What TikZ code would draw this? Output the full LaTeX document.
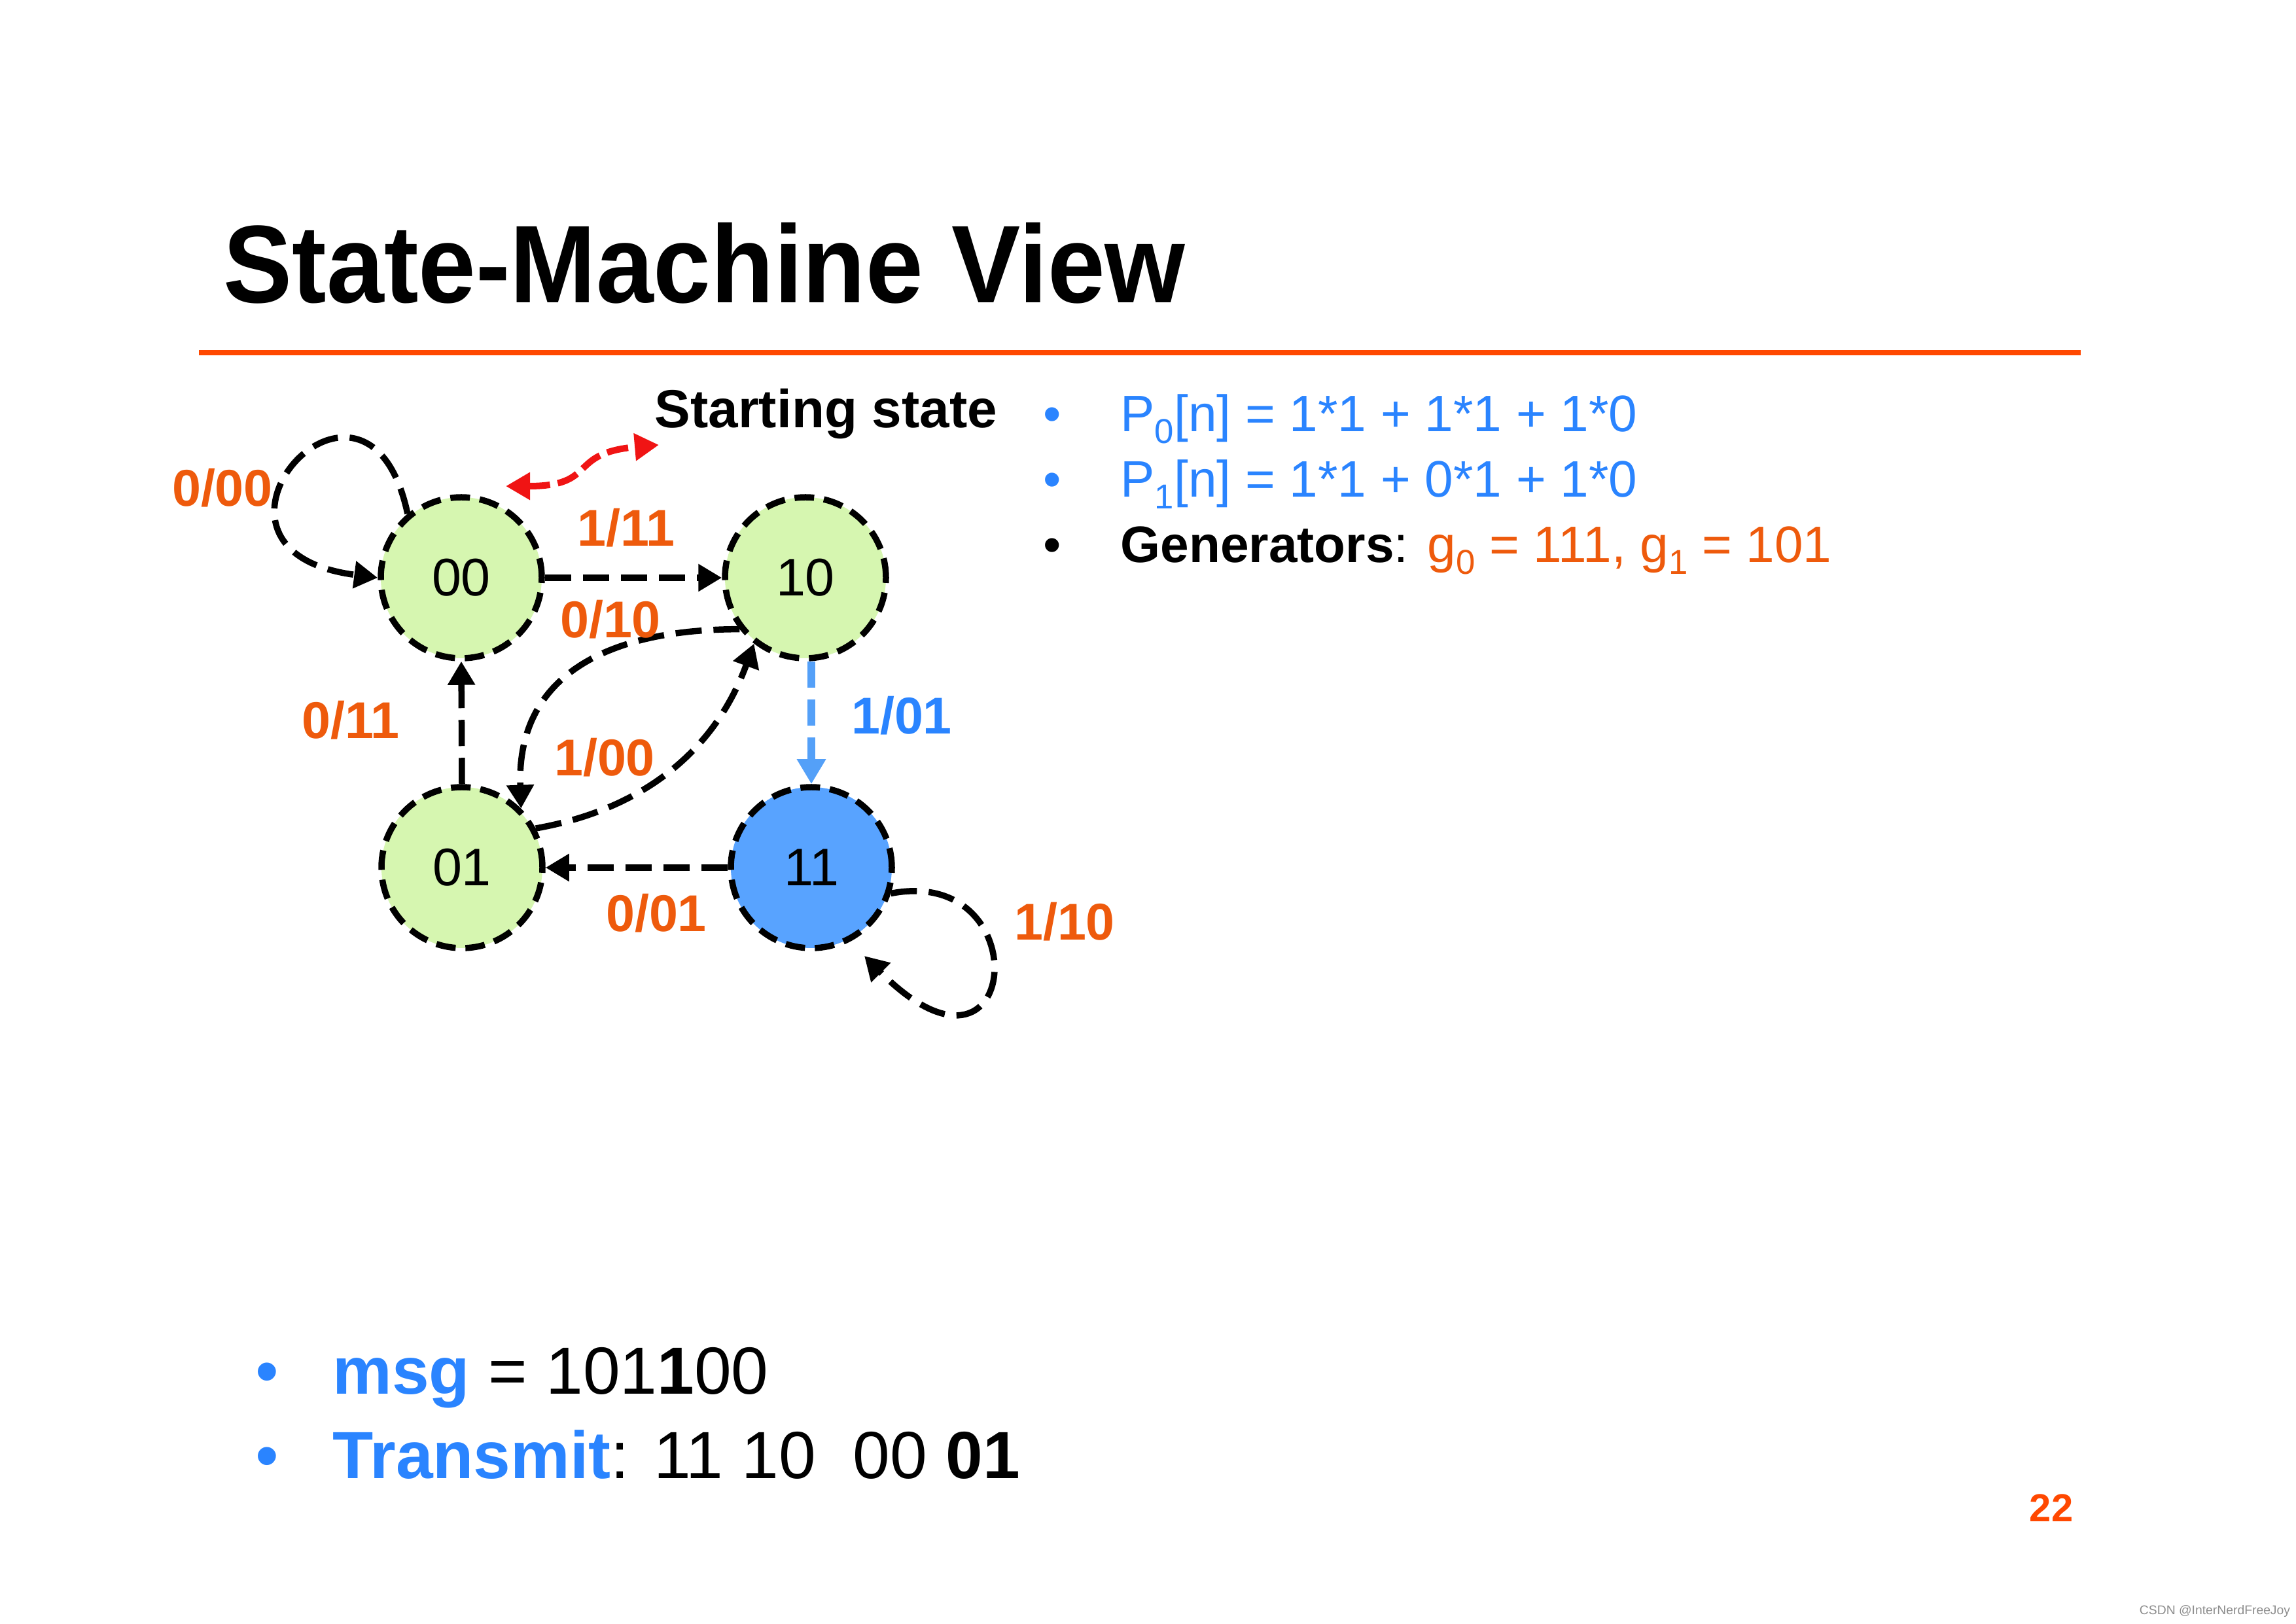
\documentclass[tikz,border=0pt]{standalone}
\usepackage{fontspec}
\setmainfont{Liberation Sans}
\usetikzlibrary{arrows.meta}

\definecolor{stategreen}{RGB}{214,246,176}
\definecolor{stateblue}{RGB}{88,163,255}
\definecolor{textblue}{RGB}{42,132,255}
\definecolor{arrowblue}{RGB}{84,160,248}
\definecolor{labelorange}{RGB}{238,90,12}
\definecolor{ruleorange}{RGB}{255,72,0}
\definecolor{startred}{RGB}{240,20,20}

\newcommand{\fs}[1]{\fontsize{#1}{#1}\selectfont}
\newcommand{\subidx}[1]{\raisebox{-0.22em}{\fontsize{15pt}{15pt}\selectfont #1}}

\begin{document}
\begin{tikzpicture}
    [state/.style={circle,draw=black,line width=0.095cm,dash pattern=on 0.3cm off 0.15cm,
                   fill=stategreen,minimum size=2.46cm,inner sep=0pt,font=\fs{23pt}},
    arrow/.style={-{Triangle[length=0.36cm,width=0.40cm]},line width=0.095cm,
                  dash pattern=on 0.4cm off 0.18cm},
    lbl/.style={text=labelorange,font=\fs{22.5pt}\bfseries,inner sep=0pt},
    item/.style={anchor=base west,inner sep=0pt,font=\fs{22.3pt}},
    dot/.style={anchor=base,inner sep=0pt,font=\fs{22.3pt}},
    ]
    \fill[white] (0,0) rectangle (35.09,24.81);
    \useasboundingbox (0,0) rectangle (35.09,24.81);

    % title and rule
    \node[anchor=base west,inner sep=0pt,font=\fs{48pt}\bfseries] (title) at (3.41,20.18)
        {\scalebox{0.935}[1]{State-Machine View}};
    \draw[ruleorange,line width=0.08cm] (3.04,19.42) -- (31.80,19.42);

    % states
    \node[state] (s00) at (7.05,15.98) {00};
    \node[state] (s10) at (12.31,15.98) {10};
    \node[state] (s01) at (7.06,11.55) {01};
    \node[state,fill=stateblue] (s11) at (12.40,11.55) {11};

    % transitions
    \draw[arrow] (s00.east) -- (s10.west);
    \draw[arrow] (s01.north) -- (s00.south);
    \draw[arrow] (s11.west) -- (s01.east);
    \draw[arrow] (s10.218) to[out=180,in=92,looseness=1.2] (s01.45);
    \draw[arrow] (s01.28) to[out=10,in=250] (s10.232);
    \draw[arrow,draw=arrowblue,line width=0.12cm,-{Triangle[length=0.38cm,width=0.42cm]}]
        (s11.north |- s10.south) -- (s11.north);
    \draw[arrow] (s00.130) .. controls (5.6,19.9) and (2.5,16.4) .. (s00.west);
    \coordinate (loop11) at (13.21,10.20);
    \draw[arrow] (s11.-18) .. controls (15.9,11.6) and (15.6,7.8) .. (loop11);

    % starting state marker
    \coordinate (redL) at (7.73,17.38);
    \coordinate (redR) at (10.07,18.01);
    \draw[startred,line width=0.1cm,dash pattern=on 0.33cm off 0.12cm,
          {Triangle[length=0.37cm,width=0.40cm]}-{Triangle[length=0.37cm,width=0.40cm]}]
        (redL) to[out=0,in=185,looseness=1.5] (redR);
    \node[anchor=base west,inner sep=0pt,font=\fs{23.3pt}\bfseries] (start) at (10.00,18.27)
        {Starting state};

    % edge labels
    \node[lbl] (l000) at (3.40,17.35) {0/00};
    \node[lbl] (l111) at (9.57,16.74) {1/11};
    \node[lbl] (l010) at (9.33,15.34) {0/10};
    \node[lbl] (l011) at (5.36,13.80) {0/11};
    \node[lbl] (l100) at (9.24,13.23) {1/00};
    \node[lbl,text=textblue] (l101) at (13.78,13.87) {1/01};
    \node[lbl] (l001) at (10.03,10.85) {0/01};
    \node[lbl] (l110) at (16.27,10.72) {1/10};

    % parity equations
    \node[dot,text=textblue] (dotA) at (16.08,18.21) {•};
    \node[dot,text=textblue] (dotB) at (16.08,17.21) {•};
    \node[dot] (dotC) at (16.08,16.21) {•};
    \node[item,text=textblue] (eqA) at (17.12,18.21) {P\subidx{0}[n] = 1*1 + 1*1 + 1*0};
    \node[item,text=textblue] (eqB) at (17.12,17.21) {P\subidx{1}[n] = 1*1 + 0*1 + 1*0};
    \node[item] (gens) at (17.12,16.21)
        {\textbf{Generators}: \textcolor{labelorange}{g\subidx{0} = 111, g\subidx{1} = 101}};

    % message
    \node[dot,font=\fs{29pt},text=textblue] (dotD) at (4.08,3.51) {•};
    \node[dot,font=\fs{29pt},text=textblue] (dotE) at (4.08,2.22) {•};
    \node[item,font=\fs{29pt}] (msg) at (5.08,3.51)
        {\textcolor{textblue}{\textbf{msg}} = 101\textbf{1}00};
    \node[item,font=\fs{29pt}] (tx) at (5.08,2.22)
        {\textcolor{textblue}{\textbf{Transmit}}: 11 10\ \ 00 \textbf{01}};

    % page number and watermark
    \node[inner sep=0pt,text=ruleorange,font=\fs{17pt}\bfseries] (page) at (31.35,1.76) {22};
    \node[inner sep=0pt,text=black!45,font=\fs{5.5pt}] (mark) at (33.85,0.19) {CSDN @InterNerdFreeJoy};
\end{tikzpicture}
\end{document}
